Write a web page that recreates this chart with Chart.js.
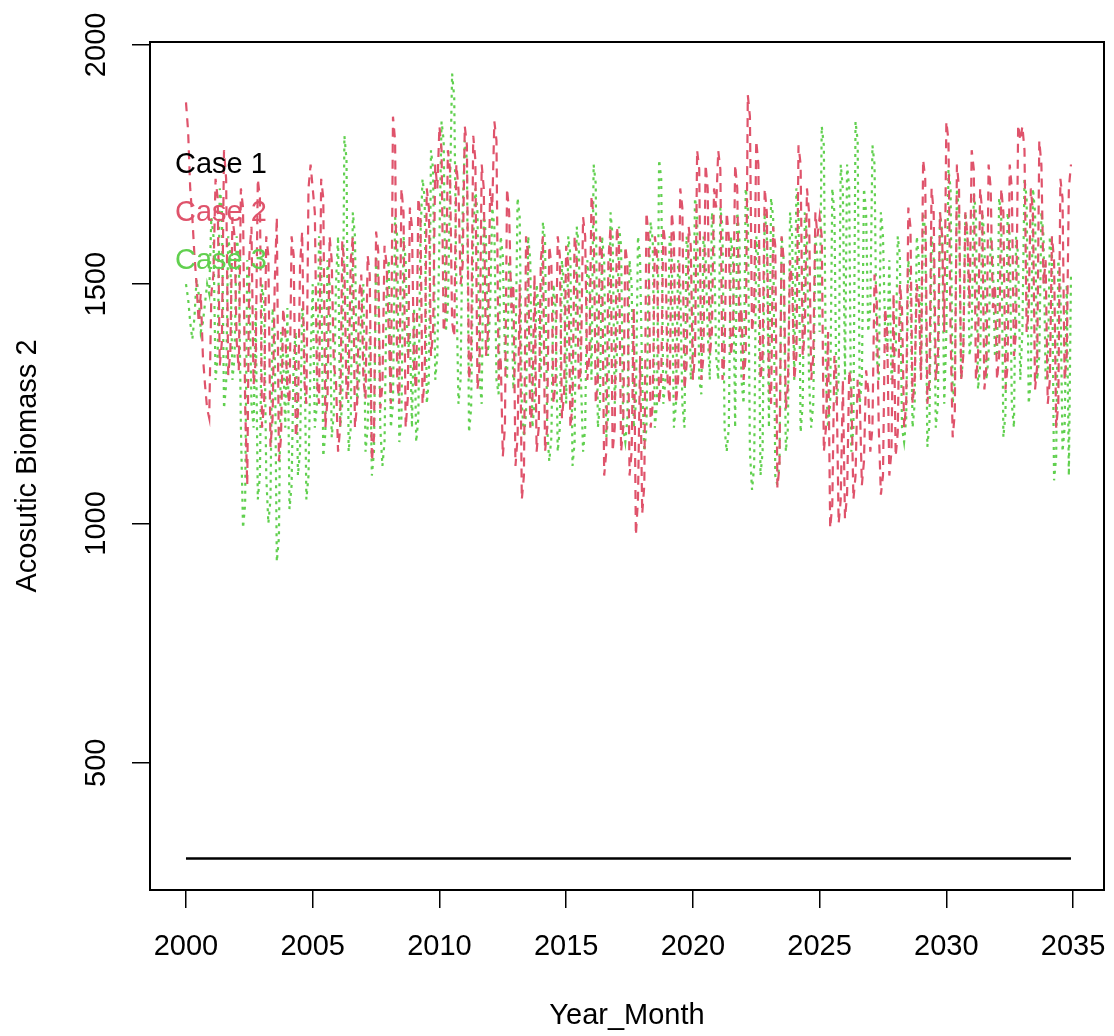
<!DOCTYPE html>
<html>
<head>
<meta charset="utf-8">
<script src="https://cdn.jsdelivr.net/npm/chart.js@4.4.1/dist/chart.umd.min.js"></script>
<style>
  body { margin: 0; background: #fff; }
  #wrap { width: 1114px; height: 1036px; }
</style>
</head>
<body>
<div id="wrap"><canvas id="biomassChart" width="1114" height="1036"></canvas></div>
<script>
const red = '#DF536B';
const green = '#61D04F';
const black = '#000000';
const fontFamily = '"Liberation Sans", Arial, sans-serif';

// months run 2000 Jan .. 2034 Dec
const startYear = 2000;
const endYear = 2034;
const xTicks = [2000, 2005, 2010, 2015, 2020, 2025, 2030, 2035];
const yTicks = [500, 1000, 1500, 2000];
const legendLabels = ['Case 1', 'Case 2', 'Case 3'];

// Case 1 is flat
const case1Years = [2000, 2034.917];
const case1Values = [300, 300];

// Case 2, one row per year (Jan..Dec)
const case2Values = [
  1880, 1820, 1700, 1640, 1560, 1500, 1420, 1480, 1350, 1290, 1240, 1220, // 2000
  1480, 1520, 1720, 1680, 1330, 1380, 1780, 1720, 1310, 1360, 1640, 1600,
  1380, 1320, 1700, 1660, 1250, 1080, 1560, 1620, 1290, 1340, 1720, 1680,
  1200, 1250, 1600, 1560, 1160, 1220, 1500, 1640, 1130, 1180, 1450, 1400,
  1280, 1250, 1600, 1560, 1180, 1230, 1540, 1610, 1300, 1250, 1700, 1750,
  1700, 1650, 1300, 1250, 1720, 1680, 1200, 1260, 1600, 1550, 1330, 1300, // 2005
  1150, 1200, 1590, 1540, 1260, 1300, 1550, 1600, 1200, 1250, 1480, 1520,
  1300, 1260, 1560, 1520, 1130, 1180, 1610, 1570, 1240, 1290, 1580, 1540,
  1400, 1250, 1850, 1800, 1300, 1250, 1700, 1650, 1200, 1260, 1660, 1620,
  1320, 1280, 1680, 1640, 1250, 1300, 1700, 1660, 1350, 1400, 1750, 1700,
  1830, 1780, 1400, 1450, 1780, 1740, 1420, 1390, 1750, 1700, 1500, 1540, // 2010
  1830, 1790, 1300, 1350, 1810, 1760, 1280, 1330, 1750, 1700, 1350, 1400,
  1700, 1660, 1840, 1800, 1300, 1350, 1140, 1200, 1700, 1650, 1450, 1500,
  1120, 1180, 1500, 1050, 1100, 1600, 1560, 1200, 1250, 1520, 1150, 1200,
  1550, 1600, 1150, 1200, 1580, 1540, 1250, 1300, 1600, 1560, 1220, 1270,
  1580, 1540, 1200, 1250, 1600, 1560, 1280, 1330, 1640, 1600, 1300, 1350, // 2015
  1685, 1640, 1250, 1300, 1600, 1560, 1100, 1150, 1550, 1620, 1150, 1200,
  1620, 1580, 1150, 1200, 1580, 1540, 1100, 1150, 1450, 975, 1050, 1350,
  1020, 1080, 1650, 1600, 1200, 1250, 1600, 1560, 1250, 1300, 1620, 1580,
  1300, 1250, 1650, 1600, 1250, 1300, 1700, 1660, 1280, 1330, 1620, 1580,
  1300, 1350, 1780, 1740, 1300, 1350, 1750, 1700, 1350, 1400, 1700, 1660, // 2020
  1779, 1740, 1300, 1350, 1650, 1600, 1350, 1400, 1750, 1700, 1400, 1450,
  1300, 1350, 1895, 1850, 1400, 1450, 1800, 1750, 1300, 1350, 1700, 1650,
  1300, 1250, 1620, 1580, 1075, 1120, 1600, 1550, 1240, 1290, 1550, 1500,
  1300, 1350, 1790, 1750, 1350, 1400, 1700, 1650, 1300, 1350, 1650, 1600,
  1640, 1600, 1150, 1200, 1400, 990, 1040, 1350, 1300, 1000, 1050, 1300, // 2025
  1010, 1060, 1320, 1280, 1050, 1100, 1300, 1260, 1080, 1130, 1320, 1280,
  1150, 1200, 1520, 1480, 1200, 1060, 1100, 1450, 1400, 1100, 1150, 1480,
  1140, 1190, 1500, 1450, 1200, 1250, 1660, 1620, 1250, 1300, 1500, 1460,
  1300, 1760, 1720, 1250, 1300, 1700, 1650, 1300, 1350, 1650, 1600, 1400,
  1840, 1800, 1400, 1180, 1230, 1750, 1700, 1300, 1350, 1650, 1600, 1450, // 2030
  1780, 1740, 1300, 1350, 1700, 1650, 1280, 1330, 1750, 1700, 1450, 1500,
  1300, 1350, 1700, 1650, 1280, 1330, 1750, 1700, 1350, 1400, 1833, 1800,
  1830, 1780, 1400, 1450, 1700, 1650, 1280, 1330, 1800, 1750, 1500, 1550,
  1250, 1300, 1600, 1550, 1200, 1250, 1720, 1680, 1300, 1350, 1700, 1750
];

// Case 3, one row per year (Jan..Dec)
const case3Values = [
  1500, 1470, 1420, 1385, 1430, 1510, 1480, 1400, 1420, 1460, 1500, 1480, // 2000
  1640, 1600, 1300, 1350, 1700, 1660, 1240, 1290, 1600, 1560, 1300, 1350,
  1600, 1560, 1200, 990, 1040, 1550, 1500, 1250, 1200, 1450, 1050, 1100,
  1500, 1460, 1100, 1000, 1050, 1450, 1400, 920, 970, 1400, 1350, 1200,
  1450, 1030, 1080, 1350, 1400, 1100, 1150, 1450, 1400, 1050, 1100, 1350,
  1500, 1200, 1250, 1600, 1550, 1140, 1190, 1550, 1500, 1180, 1230, 1500, // 2005
  1600, 1200, 1250, 1810, 1760, 1150, 1200, 1650, 1600, 1250, 1300, 1450,
  1500, 1150, 1200, 1400, 1100, 1150, 1560, 1510, 1200, 1120, 1170, 1500,
  1550, 1200, 1250, 1640, 1600, 1170, 1220, 1600, 1550, 1350, 1400, 1200,
  1450, 1170, 1220, 1600, 1720, 1680, 1250, 1300, 1780, 1740, 1300, 1350,
  1600, 1840, 1800, 1400, 1450, 1700, 1940, 1890, 1500, 1250, 1300, 1650, // 2010
  1800, 1760, 1190, 1240, 1600, 1700, 1650, 1300, 1250, 1650, 1600, 1350,
  1450, 1660, 1620, 1300, 1270, 1600, 1560, 1350, 1300, 1550, 1500, 1280,
  1350, 1680, 1640, 1250, 1180, 1230, 1600, 1550, 1200, 1250, 1500, 1450,
  1300, 1630, 1590, 1200, 1130, 1180, 1500, 1450, 1150, 1200, 1550, 1500,
  1250, 1600, 1560, 1120, 1170, 1620, 1580, 1300, 1150, 1200, 1550, 1500, // 2015
  1300, 1750, 1710, 1200, 1250, 1600, 1550, 1180, 1230, 1650, 1600, 1250,
  1350, 1620, 1580, 1200, 1170, 1220, 1550, 1500, 1200, 1250, 1600, 1550,
  1300, 1150, 1200, 1500, 1630, 1590, 1200, 1250, 1760, 1720, 1250, 1300,
  1350, 1600, 1560, 1200, 1250, 1550, 1500, 1250, 1200, 1600, 1560, 1300,
  1350, 1680, 1640, 1300, 1270, 1600, 1560, 1400, 1300, 1650, 1600, 1350, // 2020
  1300, 1660, 1620, 1200, 1150, 1200, 1600, 1550, 1200, 1650, 1600, 1300,
  1250, 1700, 1660, 1150, 1070, 1120, 1600, 1550, 1100, 1150, 1650, 1600,
  1200, 1680, 1640, 1100, 1080, 1130, 1600, 1550, 1150, 1200, 1650, 1600,
  1300, 1700, 1660, 1190, 1250, 1650, 1600, 1300, 1200, 1250, 1600, 1550,
  1400, 1830, 1790, 1300, 1200, 1250, 1700, 1650, 1250, 1300, 1750, 1700, // 2025
  1300, 1750, 1700, 1150, 1200, 1840, 1800, 1250, 1300, 1700, 1650, 1400,
  1450, 1790, 1750, 1350, 1300, 1650, 1600, 1400, 1350, 1550, 1300, 1350,
  1350, 1600, 1560, 1200, 1170, 1220, 1550, 1500, 1200, 1250, 1600, 1550,
  1300, 1650, 1610, 1160, 1210, 1600, 1560, 1200, 1250, 1650, 1610, 1250,
  1400, 1740, 1700, 1250, 1300, 1700, 1650, 1300, 1350, 1650, 1600, 1350, // 2030
  1400, 1690, 1650, 1280, 1330, 1650, 1600, 1300, 1350, 1600, 1560, 1350,
  1350, 1680, 1640, 1180, 1230, 1650, 1600, 1250, 1200, 1600, 1560, 1300,
  1400, 1720, 1680, 1250, 1300, 1700, 1650, 1300, 1350, 1650, 1600, 1300,
  1300, 1600, 1560, 1090, 1140, 1550, 1500, 1150, 1200, 1500, 1100, 1520
];

const months = [];
for (let y = startYear; y <= endYear; y++) {
  for (let m = 0; m < 12; m++) months.push(y + m / 12);
}

function toPoints(xs, ys) {
  return ys.map((v, i) => ({ x: xs[i], y: v }));
}

// R style box, rotated y labels, titles and text-only legend
const rStyle = {
  id: 'rStyle',
  afterDatasetsDraw(chart) {
    const { ctx, chartArea, scales } = chart;
    ctx.save();
    ctx.strokeStyle = black;
    ctx.lineWidth = 2;
    ctx.strokeRect(chartArea.left, chartArea.top, chartArea.right - chartArea.left, chartArea.bottom - chartArea.top);

    ctx.fillStyle = black;
    ctx.font = '29px ' + fontFamily;
    ctx.textAlign = 'center';
    ctx.textBaseline = 'middle';
    yTicks.forEach(v => {
      const py = scales.y.getPixelForValue(v);
      ctx.save();
      ctx.translate(97, py);
      ctx.rotate(-Math.PI / 2);
      ctx.fillText(String(v), 0, 0);
      ctx.restore();
    });

    // axis titles
    ctx.save();
    ctx.translate(28, (chartArea.top + chartArea.bottom) / 2);
    ctx.rotate(-Math.PI / 2);
    ctx.fillText('Acosutic Biomass 2', 0, 0);
    ctx.restore();
    ctx.fillText('Year_Month', (chartArea.left + chartArea.right) / 2, 1016);

    // legend
    ctx.textAlign = 'left';
    const colors = [black, red, green];
    legendLabels.forEach((t, i) => {
      ctx.fillStyle = colors[i];
      ctx.fillText(t, chartArea.left + 25, 165 + i * 48);
    });
    ctx.restore();
  }
};

new Chart(document.getElementById('biomassChart'), {
  type: 'line',
  data: {
    datasets: [
      { label: 'Case 1', data: toPoints(case1Years, case1Values), borderColor: black, borderWidth: 2.5 },
      { label: 'Case 2', data: toPoints(months, case2Values), borderColor: red, borderWidth: 2.2, borderDash: [9, 7] },
      { label: 'Case 3', data: toPoints(months, case3Values), borderColor: green, borderWidth: 2.2, borderDash: [3, 5] }
    ]
  },
  options: {
    responsive: false,
    animation: false,
    events: [],
    elements: { point: { radius: 0 }, line: { tension: 0, fill: false } },
    layout: { padding: { top: 42, right: 10, left: 0, bottom: 0 } },
    plugins: { legend: { display: false }, tooltip: { enabled: false } },
    scales: {
      x: {
        type: 'linear',
        min: 1998.58,
        max: 2036.22,
        afterBuildTicks: s => { s.ticks = xTicks.map(v => ({ value: v })); },
        afterFit: s => { s.height = 146; s.paddingLeft = 0; s.paddingRight = 0; },
        grid: { drawOnChartArea: false, drawTicks: true, tickLength: 18, color: black, lineWidth: 1.5 },
        border: { display: false },
        ticks: { color: black, padding: 22, maxRotation: 0, font: { family: fontFamily, size: 29 }, callback: v => String(v) }
      },
      y: {
        type: 'linear',
        min: 234,
        max: 2006,
        afterBuildTicks: s => { s.ticks = yTicks.map(v => ({ value: v })); },
        afterFit: s => { s.width = 150; },
        grid: { drawOnChartArea: false, drawTicks: true, tickLength: 18, color: black, lineWidth: 1.5 },
        border: { display: false },
        ticks: { display: false }
      }
    }
  },
  plugins: [rStyle]
});
</script>
</body>
</html>
